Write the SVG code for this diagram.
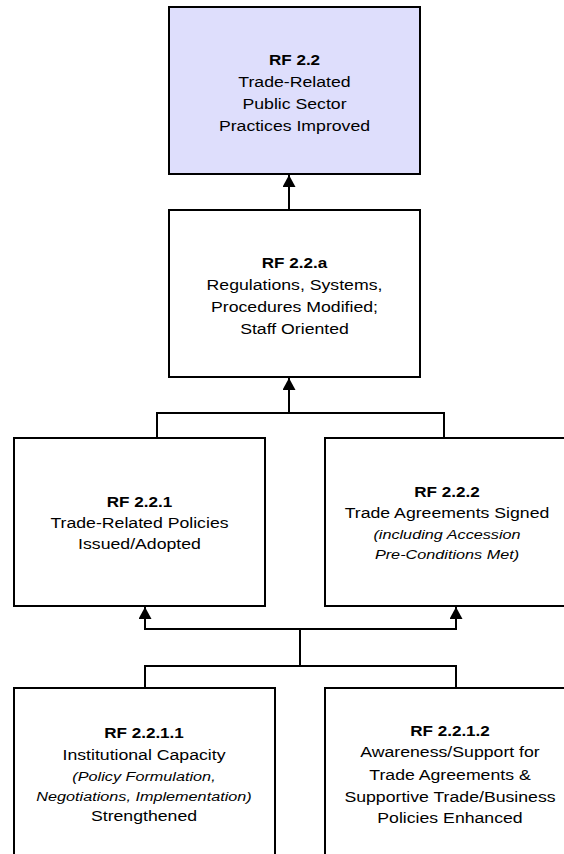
<svg xmlns="http://www.w3.org/2000/svg" width="564" height="854" viewBox="0 0 564 854">
<style>
.box{fill:#fff;stroke:#000;stroke-width:2}
.top{fill:#DEDEFC}
text{font-family:"Liberation Sans",Arial,sans-serif;font-size:14.5px;text-anchor:middle;fill:#000}
.b{font-weight:bold;font-size:14px}
.i{font-style:italic;font-size:13.3px}
.ln{fill:none;stroke:#000;stroke-width:2}
</style>
<defs>
<marker id="ah" markerUnits="userSpaceOnUse" markerWidth="14" markerHeight="13" refX="12" refY="6.5" orient="auto">
<path d="M0,0 L12,6.5 L0,13 Z" fill="#000"/>
</marker>
</defs>
<rect width="564" height="854" fill="#fff"/>
<g id="connectors">
<line class="ln" x1="289" y1="210" x2="289" y2="175" marker-end="url(#ah)"/>
<line class="ln" x1="289" y1="413" x2="289" y2="378" marker-end="url(#ah)"/>
<polyline class="ln" points="157,438 157,413 444,413 444,438"/>
<line class="ln" x1="300" y1="629" x2="300" y2="666"/>
<polyline class="ln" points="145,688 145,666 456,666 456,688"/>
<line class="ln" x1="144" y1="629" x2="457" y2="629"/>
<line class="ln" x1="145" y1="629" x2="145" y2="607" marker-end="url(#ah)"/>
<line class="ln" x1="456" y1="629" x2="456" y2="607" marker-end="url(#ah)"/>
</g>
<g id="rf22">
<rect class="box top" x="169" y="7" width="251" height="167"/>
<g transform="translate(294.5,0) scale(1.22,1)">
<text class="b" x="0" y="65">RF 2.2</text>
<text x="0" y="87">Trade-Related</text>
<text x="0" y="109">Public Sector</text>
<text x="0" y="131">Practices Improved</text>
</g>
</g>
<g id="rf22a">
<rect class="box" x="169" y="210" width="251" height="167"/>
<g transform="translate(294.5,0) scale(1.22,1)">
<text class="b" x="0" y="268">RF 2.2.a</text>
<text x="0" y="290">Regulations, Systems,</text>
<text x="0" y="312">Procedures Modified;</text>
<text x="0" y="334">Staff Oriented</text>
</g>
</g>
<g id="rf221">
<rect class="box" x="14" y="438" width="251" height="168"/>
<g transform="translate(139.5,0) scale(1.22,1)">
<text class="b" x="0" y="507">RF 2.2.1</text>
<text x="0" y="528">Trade-Related Policies</text>
<text x="0" y="549">Issued/Adopted</text>
</g>
</g>
<g id="rf222">
<rect class="box" x="325" y="438" width="270" height="168"/>
<g transform="translate(447,0) scale(1.22,1)">
<text class="b" x="0" y="497">RF 2.2.2</text>
<text x="0" y="518">Trade Agreements Signed</text>
<text class="i" x="0" y="539">(including Accession</text>
<text class="i" x="0" y="559">Pre-Conditions Met)</text>
</g>
</g>
<g id="rf2211">
<rect class="box" x="14" y="688" width="261" height="200"/>
<g transform="translate(144,0) scale(1.22,1)">
<text class="b" x="0" y="738">RF 2.2.1.1</text>
<text x="0" y="760">Institutional Capacity</text>
<text class="i" x="0" y="781">(Policy Formulation,</text>
<text class="i" x="0" y="801">Negotiations, Implementation)</text>
<text x="0" y="821">Strengthened</text>
</g>
</g>
<g id="rf2212">
<rect class="box" x="325" y="688" width="270" height="200"/>
<g transform="translate(450,0) scale(1.22,1)">
<text class="b" x="0" y="736">RF 2.2.1.2</text>
<text x="0" y="757">Awareness/Support for</text>
<text x="0" y="780">Trade Agreements &amp;</text>
<text x="0" y="802">Supportive Trade/Business</text>
<text x="0" y="823">Policies Enhanced</text>
</g>
</g>
</svg>
